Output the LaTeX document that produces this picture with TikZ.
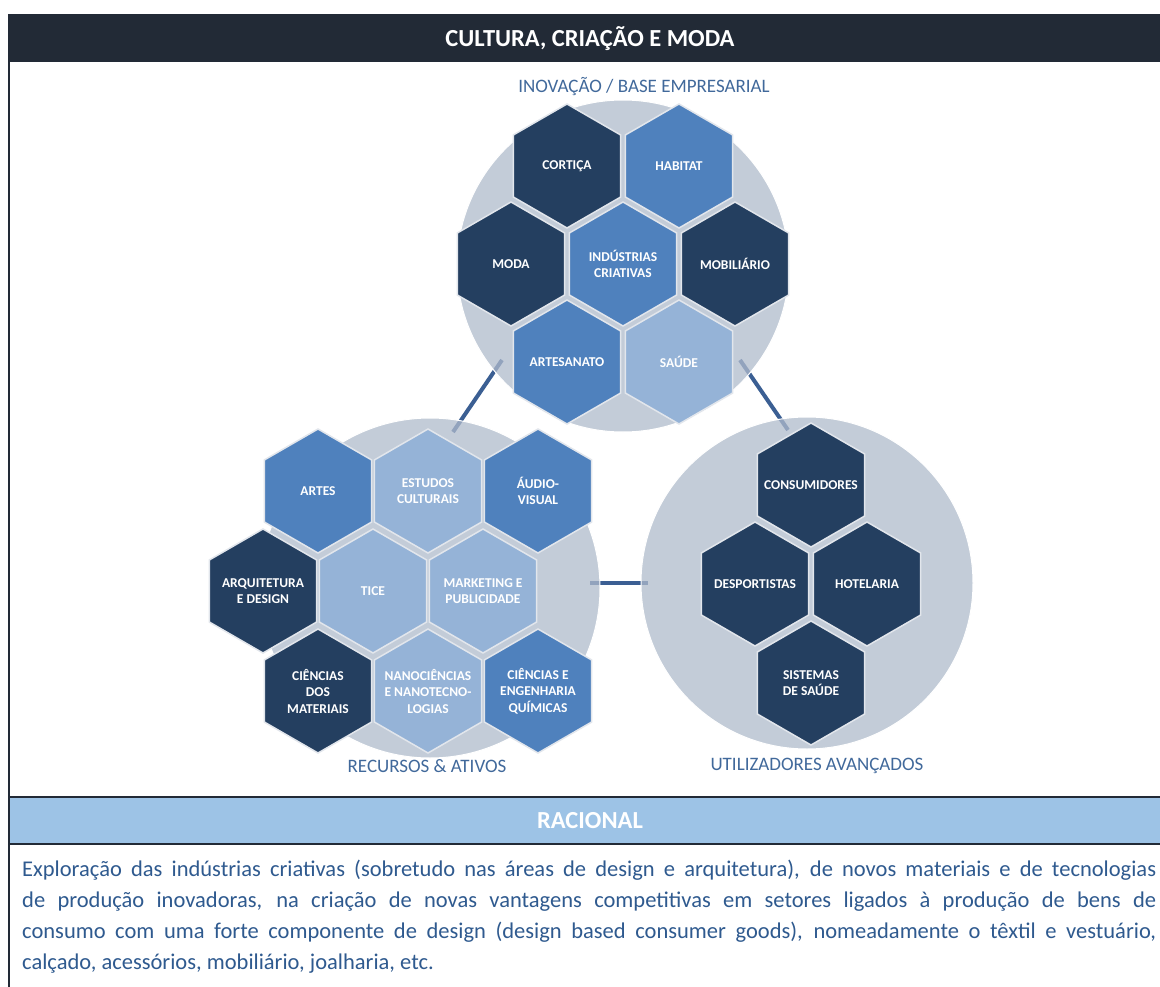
\documentclass[tikz,border=0pt]{standalone}
\usepackage{fontspec}
\setmainfont{Carlito}
\usetikzlibrary{shapes.geometric}

\definecolor{hexnavy}{HTML}{243F60}
\definecolor{hexblue}{HTML}{4F81BD}
\definecolor{hexpale}{HTML}{95B3D7}
\definecolor{hexedge}{HTML}{E2E6EC}
\definecolor{headdark}{HTML}{222A36}
\definecolor{bandblue}{HTML}{9DC3E6}
\definecolor{bubblegray}{RGB}{176,187,204}
\definecolor{linkblue}{HTML}{3B5F93}
\definecolor{labelblue}{HTML}{41699B}
\definecolor{textblue}{HTML}{2F5A8F}

\begin{document}
\begin{tikzpicture}[x=1pt,y=-1pt,
	hex/.style={
		regular polygon,regular polygon sides=6,shape border rotate=30,
		minimum size=124pt,inner sep=-20pt,draw=hexedge,line width=1.5pt,
		text=white,align=center,font=\bfseries\fontsize{13.5}{16.5}\selectfont
	},
	hexnavy/.style={hex,fill=hexnavy},
	hexblue/.style={hex,fill=hexblue},
	hexpale/.style={hex,fill=hexpale},
	bubble/.style={
		circle,inner sep=0pt,fill=bubblegray,fill opacity=0.75,
		draw=white,line width=1pt
	},
	link/.style={draw=linkblue,line width=4pt},
	circlelabel/.style={text=labelblue,font=\fontsize{19}{22}\selectfont},
	barlabel/.style={text=white,font=\bfseries\fontsize{24.5}{26}\selectfont}
	]
	\useasboundingbox (0,0) rectangle (1160,987);
	\fill[white] (0,0) rectangle (1160,987);
	
	% table frame
	\fill[headdark] (8,14) rectangle (1160,62);
	\node[barlabel] (title) at (590,39) {CULTURA, CRIAÇÃO E MODA};
	\fill[bandblue] (8,797) rectangle (1160,844);
	\draw[headdark,line width=2.5pt] (8,797) -- (1160,797);
	\draw[headdark,line width=2.5pt] (8,844) -- (1160,844);
	\node[barlabel] (racional) at (590,821) {RACIONAL};
	\draw[headdark,line width=2pt] (9,62) -- (9,987);
	
	% connectors (under the circles)
	\coordinate (inovacaoA) at (502,360);
	\coordinate (recursosA) at (453,432);
	\coordinate (inovacaoB) at (740,360);
	\coordinate (utilizadoresA) at (788,430);
	\coordinate (recursosB) at (590,583);
	\coordinate (utilizadoresB) at (648,583);
	\draw[link] (inovacaoA) -- (recursosA);
	\draw[link] (inovacaoB) -- (utilizadoresA);
	\draw[link] (recursosB) -- (utilizadoresB);
	
	% circles
	\node[bubble,minimum size=332pt] (inovacao) at (623,266) {};
	\node[bubble,minimum size=340pt] (recursos) at (430,588) {};
	\node[bubble,minimum size=332pt] (utilizadores) at (807,583) {};
	
	\node[circlelabel] (inovacaolbl) at (644,87) {INOVAÇÃO / BASE EMPRESARIAL};
	\node[circlelabel] (recursoslbl) at (427,766) {RECURSOS \& ATIVOS};
	\node[circlelabel] (utilizadoreslbl) at (817,766) {UTILIZADORES AVANÇADOS};
	
	\begin{scope} % inovacao / base empresarial
		\node[hexnavy] (cortica) at (567,166) {CORTIÇA};
		\node[hexblue] (habitat) at (679,166) {HABITAT};
		\node[hexnavy] (moda) at (511,264) {MODA};
		\node[hexblue] (industrias) at (623,264) {INDÚSTRIAS\\CRIATIVAS};
		\node[hexnavy] (mobiliario) at (735,264) {MOBILIÁRIO};
		\node[hexblue] (artesanato) at (567,362) {ARTESANATO};
		\node[hexpale] (saude) at (679,362) {SAÚDE};
	\end{scope}
	
	\begin{scope} % recursos & ativos
		\node[hexblue] (artes) at (318,491) {ARTES};
		\node[hexpale] (estudos) at (428,491) {ESTUDOS\\CULTURAIS};
		\node[hexblue] (audio) at (538,491) {ÁUDIO-\\VISUAL};
		\node[hexnavy] (arquitetura) at (263,591) {ARQUITETURA\\E DESIGN};
		\node[hexpale] (tice) at (373,591) {TICE};
		\node[hexpale] (marketing) at (483,591) {MARKETING E\\PUBLICIDADE};
		\node[hexnavy] (materiais) at (318,691) {CIÊNCIAS\\DOS\\MATERIAIS};
		\node[hexpale] (nano) at (428,691) {NANOCIÊNCIAS\\E NANOTECNO-\\LOGIAS};
		\node[hexblue] (quimicas) at (538,691) {CIÊNCIAS E\\ENGENHARIA\\QUÍMICAS};
	\end{scope}
	
	\begin{scope} % utilizadores avancados
		\node[hexnavy] (consumidores) at (811,485) {CONSUMIDORES};
		\node[hexnavy] (desportistas) at (755,584) {DESPORTISTAS};
		\node[hexnavy] (hotelaria) at (867,584) {HOTELARIA};
		\node[hexnavy] (sistemas) at (811,683) {SISTEMAS\\DE SAÚDE};
	\end{scope}
	
	\node[anchor=north west,inner sep=0pt,text width=1134pt,align=justify,
		text=textblue,font=\fontsize{22.5}{31}\selectfont] (texto) at (22,860)
		{Exploração das indústrias criativas (sobretudo nas áreas de design e arquitetura), de novos materiais e de tecnologias\linebreak
		de produção inovadoras, na criação de novas vantagens competitivas em setores ligados à produção de bens de\linebreak
		consumo com uma forte componente de design (design based consumer goods), nomeadamente o têxtil e vestuário,\linebreak
		calçado, acessórios, mobiliário, joalharia, etc.};
\end{tikzpicture}
\end{document}
